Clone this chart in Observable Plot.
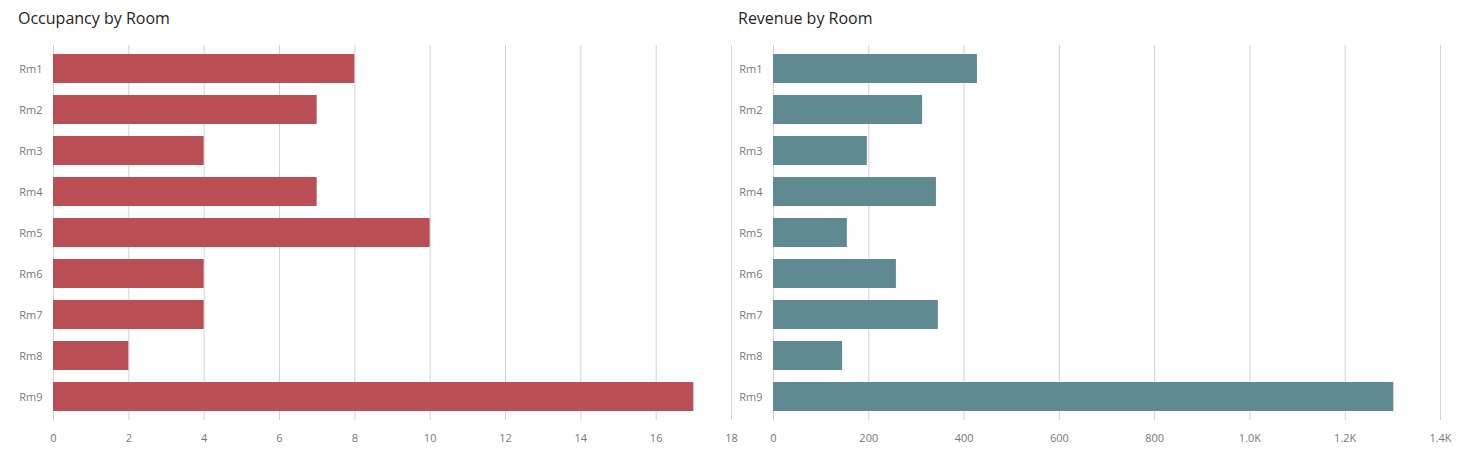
<!DOCTYPE html>
<html>
<head>
<meta charset="utf-8">
<script src="https://cdn.jsdelivr.net/npm/d3@7"></script>
<script src="https://cdn.jsdelivr.net/npm/@observablehq/plot@0.6"></script>
<style>
  html, body { margin: 0; padding: 0; background: #fff; }
  body { width: 1466px; height: 461px; position: relative; overflow: hidden; font-family: "Open Sans", sans-serif; }
  .panel { position: absolute; top: 0; }
  .title { position: absolute; top: 7px; font-size: 16px; color: #252423; font-family: "Open Sans", sans-serif; white-space: nowrap; }
  svg { position: absolute; top: 0; left: 0; overflow: visible; }
</style>
</head>
<body>
<div id="left" class="panel" style="left:0px;width:733px;height:461px;"></div>
<div id="right" class="panel" style="left:720px;width:746px;height:461px;"></div>
<div class="title" style="left:18px;">Occupancy by Room</div>
<div class="title" style="left:738px;">Revenue by Room</div>
<script>
const rooms = ["Rm1", "Rm2", "Rm3", "Rm4", "Rm5", "Rm6", "Rm7", "Rm8", "Rm9"];
const occupancy = [8, 7, 4, 7, 10, 4, 4, 2, 17];
const revenue = [428, 313, 197, 342, 155, 258, 346, 145, 1302];
const occupancyTicks = [0, 2, 4, 6, 8, 10, 12, 14, 16, 18];
const revenueTicks = [0, 200, 400, 600, 800, 1000, 1200, 1400];

const occData = rooms.map((r, i) => ({room: r, value: occupancy[i]}));
const revData = rooms.map((r, i) => ({room: r, value: revenue[i]}));

const fmtK = d => d >= 1000 ? (d / 1000).toFixed(1) + "K" : String(d);

function chart({data, ticks, domain, color, width, marginRight, format}) {
  return Plot.plot({
    width,
    height: 461,
    marginTop: 45,
    marginBottom: 41,
    marginLeft: 53,
    marginRight,
    style: {fontFamily: "Open Sans, sans-serif", fontSize: "11px", color: "#777", background: "transparent", overflow: "visible"},
    x: {domain, ticks, tickSize: 0, tickPadding: 14, tickFormat: format, label: null},
    y: {domain: rooms, paddingInner: 0.3, paddingOuter: 0.15, tickSize: 0, tickPadding: 11, label: null},
    marks: [
      Plot.ruleX(ticks, {stroke: "#d2d2d2", strokeWidth: 1}),
      Plot.barX(data, {x: "value", y: "room", fill: color}),
      Plot.axisX({ticks, tickSize: 0, tickPadding: 14, tickFormat: format, label: null, fill: "#777"}),
      Plot.axisY({tickSize: 0, tickPadding: 11, label: null, fill: "#777"})
    ]
  });
}

document.getElementById("left").appendChild(chart({
  data: occData, ticks: occupancyTicks, domain: [0, 18], color: "#b94f54", width: 733, marginRight: 2, format: d => String(d)
}));
document.getElementById("right").appendChild(chart({
  data: revData, ticks: revenueTicks, domain: [0, 1400], color: "#5f8a92", width: 746, marginRight: 26, format: fmtK
}));
</script>
</body>
</html>
